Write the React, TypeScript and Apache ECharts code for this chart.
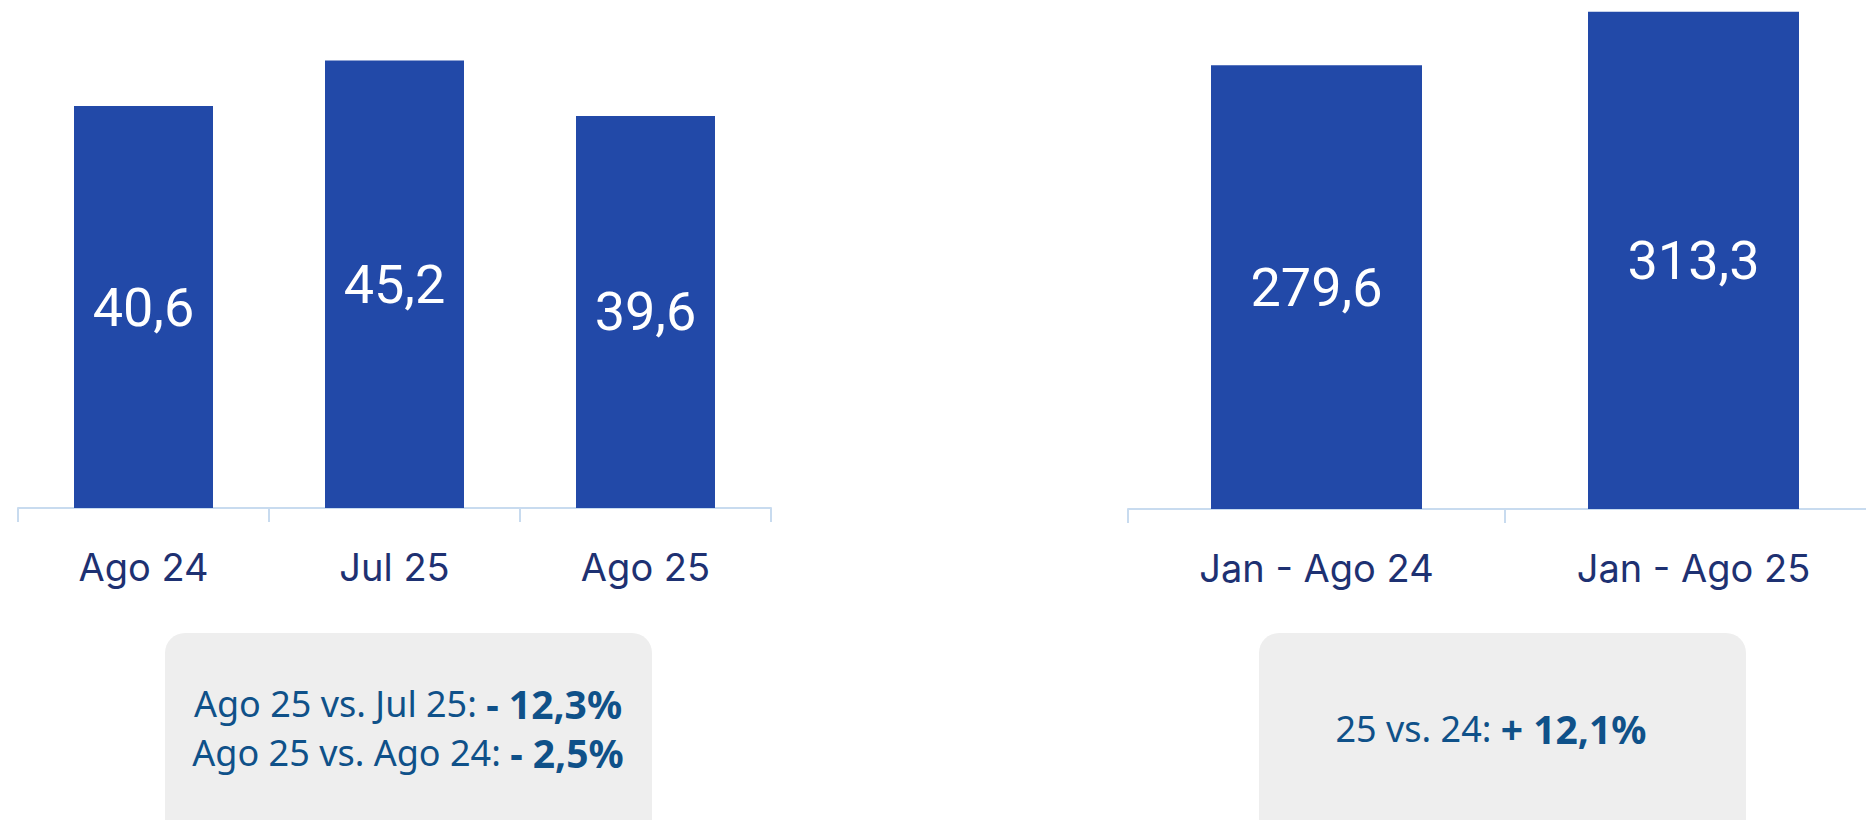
import React, { useEffect, useRef } from "react";
import * as echarts from "echarts";

const monthCategories = ["Ago 24", "Jul 25", "Ago 25"];
const monthValues = [40.6, 45.2, 39.6];
const ytdCategories = ["Jan - Ago 24", "Jan - Ago 25"];
const ytdValues = [279.6, 313.3];
const monthChangeLabels = ["Ago 25 vs. Jul 25: ", "Ago 25 vs. Ago 24: "];
const monthChangeValues = ["- 12,3%", "- 2,5%"];
const ytdChangeLabels = ["25 vs. 24: "];
const ytdChangeValues = ["+ 12,1%"];

const BAR = "#2249a8";
const AXIS = "#c8dbef";
const LABEL = "#1e3172";
const BOXTXT = "#0f5189";

const fmt = (p: any) => Number(p.value).toFixed(1).replace(".", ",");

export default function App() {
  const ref = useRef<HTMLDivElement>(null);
  useEffect(() => {
    if (!ref.current) return;
    const chart = echarts.init(ref.current, undefined, { renderer: "svg" });
    const axisCommon = {
      type: "category" as const,
      axisLine: { show: true, lineStyle: { color: AXIS, width: 2 } },
      axisTick: { show: true, length: 14, lineStyle: { color: AXIS, width: 2 } },
      axisLabel: {
        color: LABEL,
        fontFamily: "Inter",
        fontSize: 38,
        margin: 40,
      },
    };
    const labelCommon = {
      show: true,
      position: "inside" as const,
      color: "#ffffff",
      fontFamily: "Roboto",
      fontWeight: "normal" as const,
      fontSize: 54,
      formatter: fmt,
    };
    const rich = {
      r: { fontFamily: "Noto Sans", fontSize: 36, fill: BOXTXT, color: BOXTXT },
      b: { fontFamily: "Noto Sans", fontSize: 39, fontWeight: "bold" as const, fill: BOXTXT, color: BOXTXT },
    };
    const graphics: any[] = [
      { type: "rect", shape: { x: 165, y: 633, width: 487, height: 240, r: 20 }, style: { fill: "#eeeeee" } },
      { type: "rect", shape: { x: 1259, y: 633, width: 487, height: 240, r: 20 }, style: { fill: "#eeeeee" } },
    ];
    monthChangeLabels.forEach((lab, i) => {
      graphics.push({
        type: "text",
        x: 408,
        y: 703 + i * 49,
        style: {
          text: `{r|${lab}}{b|${monthChangeValues[i]}}`,
          rich,
          fill: BOXTXT,
          align: "center",
          verticalAlign: "middle",
        },
      });
    });
    ytdChangeLabels.forEach((lab, i) => {
      graphics.push({
        type: "text",
        x: 1491,
        y: 728 + i * 50,
        style: {
          text: `{r|${lab}}{b|${ytdChangeValues[i]}}`,
          rich,
          fill: BOXTXT,
          align: "center",
          verticalAlign: "middle",
        },
      });
    });
    chart.setOption({
      animation: false,
      grid: [
        { left: 18, top: 13, width: 753, height: 495, outerBoundsMode: "none", containLabel: false },
        { left: 1128, top: 1, width: 754, height: 508, outerBoundsMode: "none", containLabel: false },
      ],
      xAxis: [
        { ...axisCommon, gridIndex: 0, data: monthCategories },
        { ...axisCommon, gridIndex: 1, data: ytdCategories },
      ],
      yAxis: [
        { type: "value", gridIndex: 0, min: 0, max: 50, show: false, splitLine: { show: false } },
        { type: "value", gridIndex: 1, min: 0, max: 320, show: false, splitLine: { show: false } },
      ],
      series: [
        {
          type: "bar",
          xAxisIndex: 0,
          yAxisIndex: 0,
          data: monthValues,
          barWidth: 139,
          itemStyle: { color: BAR },
          label: labelCommon,
        },
        {
          type: "bar",
          xAxisIndex: 1,
          yAxisIndex: 1,
          data: ytdValues,
          barWidth: 211,
          itemStyle: { color: BAR },
          label: labelCommon,
        },
      ],
      graphic: graphics,
    });
    return () => chart.dispose();
  }, []);
  return (
    <div
      ref={ref}
      style={{ position: "absolute", left: 0, top: 0, width: 1866, height: 820, background: "#ffffff" }}
    />
  );
}
